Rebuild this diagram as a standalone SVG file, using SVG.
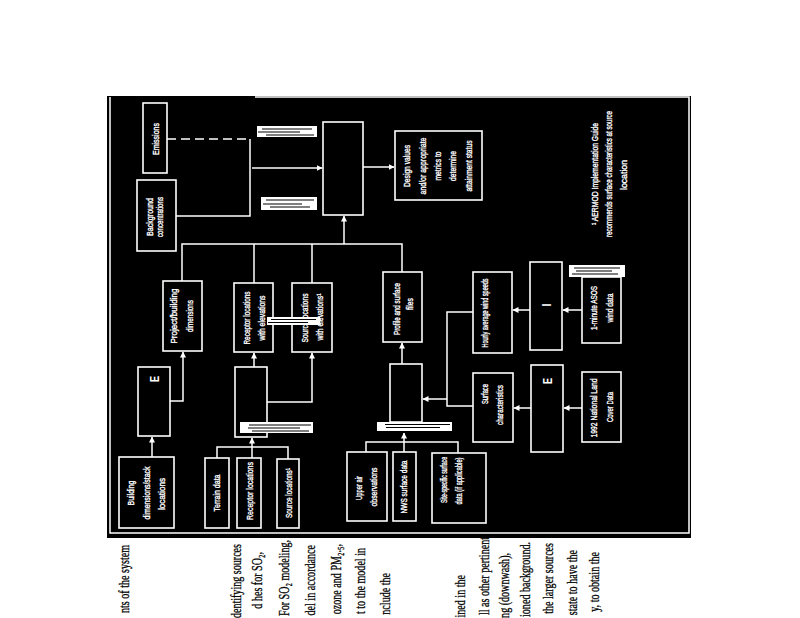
<svg xmlns="http://www.w3.org/2000/svg" width="800" height="618" viewBox="0 0 800 618">
<defs>
<style>
.box{fill:none;stroke:#fff;stroke-width:1.6}
.ln{fill:none;stroke:#fff;stroke-width:1.5}
.lbl{fill:#fff;stroke:#fff;stroke-width:0.35;font-family:"Liberation Sans",Arial,sans-serif;font-size:9.5px;text-anchor:middle}
.big{fill:#fff;font-family:"Liberation Sans",Arial,sans-serif;font-size:13px;font-weight:bold;text-anchor:middle}
.pg{fill:#000;stroke:#000;stroke-width:0.3;font-family:"Liberation Serif","Times New Roman",serif;font-size:14px;text-anchor:end}
.bar{fill:#fff}
.st{stroke:#000;stroke-width:1.2}
</style>
<marker id="ah" markerWidth="6" markerHeight="6" refX="5.5" refY="3" orient="auto" markerUnits="userSpaceOnUse"><path d="M0,0 L6,3 L0,6 z" fill="#fff"/></marker>
</defs>
<rect width="800" height="618" fill="#fff"/>
<rect x="107" y="96" width="584" height="442" fill="#000"/>
<path class="ln" d="M110,97 V533 H689 V97 H255"/>

<g id="connectors">
<path class="ln" d="M167,139 H250" stroke-dasharray="9,5"/>
<path class="ln" d="M250,139 V216 H176"/>
<path class="ln" d="M252,168 H322" marker-end="url(#ah)"/>
<path class="ln" d="M363,167 H394" marker-end="url(#ah)"/>
<path class="ln" d="M182,281 V244 H402 V272 M254,244 V283 M312,244 V283"/>
<path class="ln" d="M344,244 V216" marker-end="url(#ah)"/>
<path class="ln" d="M170,401 H183 V352" marker-end="url(#ah)"/>
<path class="ln" d="M152,457 V437" marker-end="url(#ah)"/>
<path class="ln" d="M217,458 V447 H288 V459"/>
<path class="ln" d="M252,458 V438" marker-end="url(#ah)"/>
<path class="ln" d="M254,367 V353" marker-end="url(#ah)"/>
<path class="ln" d="M267,402 H312 V353" marker-end="url(#ah)"/>
<path class="ln" d="M366,452 V442 H458 V453"/>
<path class="ln" d="M404,452 V433" marker-end="url(#ah)"/>
<path class="ln" d="M402,364 V343" marker-end="url(#ah)"/>
<path class="ln" d="M473,312 H447 V406 H473"/>
<path class="ln" d="M447,399 H423" marker-end="url(#ah)"/>
<path class="ln" d="M530,310 H513" marker-end="url(#ah)"/>
<path class="ln" d="M582,310 H563" marker-end="url(#ah)"/>
<path class="ln" d="M531,408 H514" marker-end="url(#ah)"/>
<path class="ln" d="M582,408 H564" marker-end="url(#ah)"/>
</g>

<g id="emissions"><rect class="box" x="143" y="103" width="24" height="70"/>
<text class="lbl" transform="translate(159,139) rotate(-90)" textLength="32" lengthAdjust="spacingAndGlyphs">Emissions</text></g>

<g id="background"><rect class="box" x="137" y="180" width="39" height="71"/>
<text class="lbl" transform="translate(153,217) rotate(-90)" textLength="38" lengthAdjust="spacingAndGlyphs">Background</text>
<text class="lbl" transform="translate(163,217) rotate(-90)" textLength="40" lengthAdjust="spacingAndGlyphs">concentrations</text></g>

<g id="aermod"><rect class="box" x="323" y="122" width="40" height="93"/>
<rect class="bar" x="257" y="126" width="60" height="11"/><path class="st" d="M262,129 H312 M258,132 H300 M266,135 H314"/>
<rect class="bar" x="261" y="197" width="56" height="13"/><path class="st" d="M266,200 H314 M263,204 H302 M270,207 H310"/></g>

<g id="design"><rect class="box" x="395" y="131" width="87" height="69"/>
<text class="lbl" transform="translate(410,166) rotate(-90)" textLength="42" lengthAdjust="spacingAndGlyphs">Design values</text>
<text class="lbl" transform="translate(426,166) rotate(-90)" textLength="57" lengthAdjust="spacingAndGlyphs">and/or appropriate</text>
<text class="lbl" transform="translate(441,166) rotate(-90)" textLength="29" lengthAdjust="spacingAndGlyphs">metrics to</text>
<text class="lbl" transform="translate(456,166) rotate(-90)" textLength="30" lengthAdjust="spacingAndGlyphs">determine</text>
<text class="lbl" transform="translate(472,166) rotate(-90)" textLength="51" lengthAdjust="spacingAndGlyphs">attainment status</text></g>

<g id="project"><rect class="box" x="163" y="281" width="39" height="70"/>
<text class="lbl" transform="translate(177,316) rotate(-90)" textLength="55" lengthAdjust="spacingAndGlyphs">Project/building</text>
<text class="lbl" transform="translate(193,316) rotate(-90)" textLength="32" lengthAdjust="spacingAndGlyphs">dimensions</text></g>

<g id="receptor-elev"><rect class="box" x="234" y="283" width="39" height="69"/>
<text class="lbl" transform="translate(250,318) rotate(-90)" textLength="53" lengthAdjust="spacingAndGlyphs">Receptor locations</text>
<text class="lbl" transform="translate(265,318) rotate(-90)" textLength="45" lengthAdjust="spacingAndGlyphs">with elevations</text></g>

<g id="source-elev"><rect class="box" x="292" y="283" width="40" height="69"/>
<text class="lbl" transform="translate(308,318) rotate(-90)" textLength="49" lengthAdjust="spacingAndGlyphs">Source locations</text>
<text class="lbl" transform="translate(323,317) rotate(-90)" textLength="47" lengthAdjust="spacingAndGlyphs">with elevations¹</text>
<rect class="bar" x="267" y="317" width="53" height="8"/><path class="st" d="M271,319.5 H316 M268,322.5 H308"/></g>

<g id="profile"><rect class="box" x="383" y="272" width="39" height="70"/>
<text class="lbl" transform="translate(400,309) rotate(-90)" textLength="52" lengthAdjust="spacingAndGlyphs">Profile and surface</text>
<text class="lbl" transform="translate(413,304) rotate(-90)" textLength="12" lengthAdjust="spacingAndGlyphs">files</text></g>

<g id="bpip"><rect class="box" x="138" y="367" width="32" height="69"/>
<text class="big" transform="translate(159,379) rotate(-90)" textLength="6" lengthAdjust="spacingAndGlyphs">E</text></g>

<g id="aermap"><rect class="box" x="235" y="367" width="32" height="70"/>
<rect class="bar" x="240" y="422" width="73" height="11"/><path class="st" d="M249,425 H311 M248,428 H300 M252,431 H309"/></g>

<g id="building"><rect class="box" x="119" y="457" width="55" height="71"/>
<text class="lbl" transform="translate(134,493) rotate(-90)" textLength="25" lengthAdjust="spacingAndGlyphs">Building</text>
<text class="lbl" transform="translate(150,493) rotate(-90)" textLength="53" lengthAdjust="spacingAndGlyphs">dimensions/stack</text>
<text class="lbl" transform="translate(165,494) rotate(-90)" textLength="32" lengthAdjust="spacingAndGlyphs">locations</text></g>

<g id="terrain"><rect class="box" x="205" y="458" width="24" height="70"/>
<text class="lbl" transform="translate(220,493) rotate(-90)" textLength="37" lengthAdjust="spacingAndGlyphs">Terrain data</text></g>

<g id="receptor"><rect class="box" x="237" y="458" width="24" height="70"/>
<text class="lbl" transform="translate(253,491) rotate(-90)" textLength="58" lengthAdjust="spacingAndGlyphs">Receptor locations</text></g>

<g id="source"><rect class="box" x="277" y="459" width="22" height="69"/>
<text class="lbl" transform="translate(292,493) rotate(-90)" textLength="50" lengthAdjust="spacingAndGlyphs">Source locations¹</text></g>

<g id="aermet"><rect class="box" x="390" y="364" width="32" height="58"/>
<rect class="bar" x="377" y="422" width="75" height="9"/><path class="st" d="M385,424.5 H450 M386,427.5 H440"/></g>

<g id="upperair"><rect class="box" x="347" y="452" width="40" height="69"/>
<text class="lbl" transform="translate(362,488) rotate(-90)" textLength="24" lengthAdjust="spacingAndGlyphs">Upper air</text>
<text class="lbl" transform="translate(377,487) rotate(-90)" textLength="39" lengthAdjust="spacingAndGlyphs">observations</text></g>

<g id="nws"><rect class="box" x="393" y="452" width="23" height="69"/>
<text class="lbl" transform="translate(407,487) rotate(-90)" textLength="53" lengthAdjust="spacingAndGlyphs">NWS surface data</text></g>

<g id="sitespecific"><rect class="box" x="432" y="453" width="54" height="70"/>
<text class="lbl" transform="translate(447,480) rotate(-90)" textLength="46" lengthAdjust="spacingAndGlyphs">Site-specific surface</text>
<text class="lbl" transform="translate(462,481) rotate(-90)" textLength="47" lengthAdjust="spacingAndGlyphs">data (if applicable)</text></g>

<g id="hourly"><rect class="box" x="473" y="272" width="39" height="81"/>
<text class="lbl" transform="translate(488,313) rotate(-90)" textLength="69" lengthAdjust="spacingAndGlyphs">Hourly average wind speeds</text></g>

<g id="surface"><rect class="box" x="473" y="373" width="40" height="69"/>
<text class="lbl" transform="translate(488,394) rotate(-90)" textLength="20" lengthAdjust="spacingAndGlyphs">Surface</text>
<text class="lbl" transform="translate(503,405) rotate(-90)" textLength="40" lengthAdjust="spacingAndGlyphs">characteristics</text></g>

<g id="aerminute"><rect class="box" x="530" y="262" width="32" height="88"/>
<text class="big" transform="translate(551,305) rotate(-90)" textLength="3" lengthAdjust="spacingAndGlyphs">I</text></g>

<g id="aersurface"><rect class="box" x="531" y="365" width="32" height="87"/>
<text class="big" transform="translate(552,381) rotate(-90)" textLength="6" lengthAdjust="spacingAndGlyphs">E</text></g>

<g id="asos"><rect class="box" x="582" y="277" width="39" height="66"/>
<rect class="bar" x="569" y="265" width="56" height="12"/><path class="st" d="M574,268 H620 M576,271 H612 M572,274 H618"/>
<text class="lbl" transform="translate(597,308) rotate(-90)" textLength="44" lengthAdjust="spacingAndGlyphs">1-minute ASOS</text>
<text class="lbl" transform="translate(613,308) rotate(-90)" textLength="29" lengthAdjust="spacingAndGlyphs">wind data</text></g>

<g id="nlcd"><rect class="box" x="582" y="372" width="39" height="70"/>
<text class="lbl" transform="translate(597,408) rotate(-90)" textLength="59" lengthAdjust="spacingAndGlyphs">1992 National Land</text>
<text class="lbl" transform="translate(613,407) rotate(-90)" textLength="30" lengthAdjust="spacingAndGlyphs">Cover Data</text></g>

<g id="footnote">
<text class="lbl" transform="translate(598,174) rotate(-90)" textLength="102" lengthAdjust="spacingAndGlyphs">¹ AERMOD Implementation Guide</text>
<text class="lbl" transform="translate(612,174) rotate(-90)" textLength="126" lengthAdjust="spacingAndGlyphs">recommends surface characteristics at source</text>
<text class="lbl" transform="translate(627,175) rotate(-90)" textLength="30" lengthAdjust="spacingAndGlyphs">location</text>
</g>

<g id="page-text">
<text class="pg" transform="translate(129,545) rotate(-90) scale(0.72,1)">nts of the system</text>
<text class="pg" transform="translate(241,544) rotate(-90) scale(0.72,1)">dentifying sources</text>
<text class="pg" transform="translate(262,552) rotate(-90) scale(0.72,1)">d hes for SO₂,</text>
<text class="pg" transform="translate(289,540) rotate(-90) scale(0.72,1)">For SO₂ modeling,</text>
<text class="pg" transform="translate(315,545) rotate(-90) scale(0.72,1)">del in accordance</text>
<text class="pg" transform="translate(341,544) rotate(-90) scale(0.72,1)">ozone and PM₂.₅,</text>
<text class="pg" transform="translate(365,548) rotate(-90) scale(0.72,1)">t to the model in</text>
<text class="pg" transform="translate(390,573) rotate(-90) scale(0.72,1)">nclude the</text>
<text class="pg" transform="translate(465,575) rotate(-90) scale(0.72,1)">ined in the</text>
<text class="pg" transform="translate(489,537) rotate(-90) scale(0.72,1)">ll as other pertinent</text>
<text class="pg" transform="translate(509,553) rotate(-90) scale(0.72,1)">ng (downwash),</text>
<text class="pg" transform="translate(530,542) rotate(-90) scale(0.72,1)">ioned background.</text>
<text class="pg" transform="translate(553,543) rotate(-90) scale(0.72,1)">the larger sources</text>
<text class="pg" transform="translate(577,550) rotate(-90) scale(0.72,1)">state to have the</text>
<text class="pg" transform="translate(599,552) rotate(-90) scale(0.72,1)">y, to obtain the</text>
</g>
</svg>
